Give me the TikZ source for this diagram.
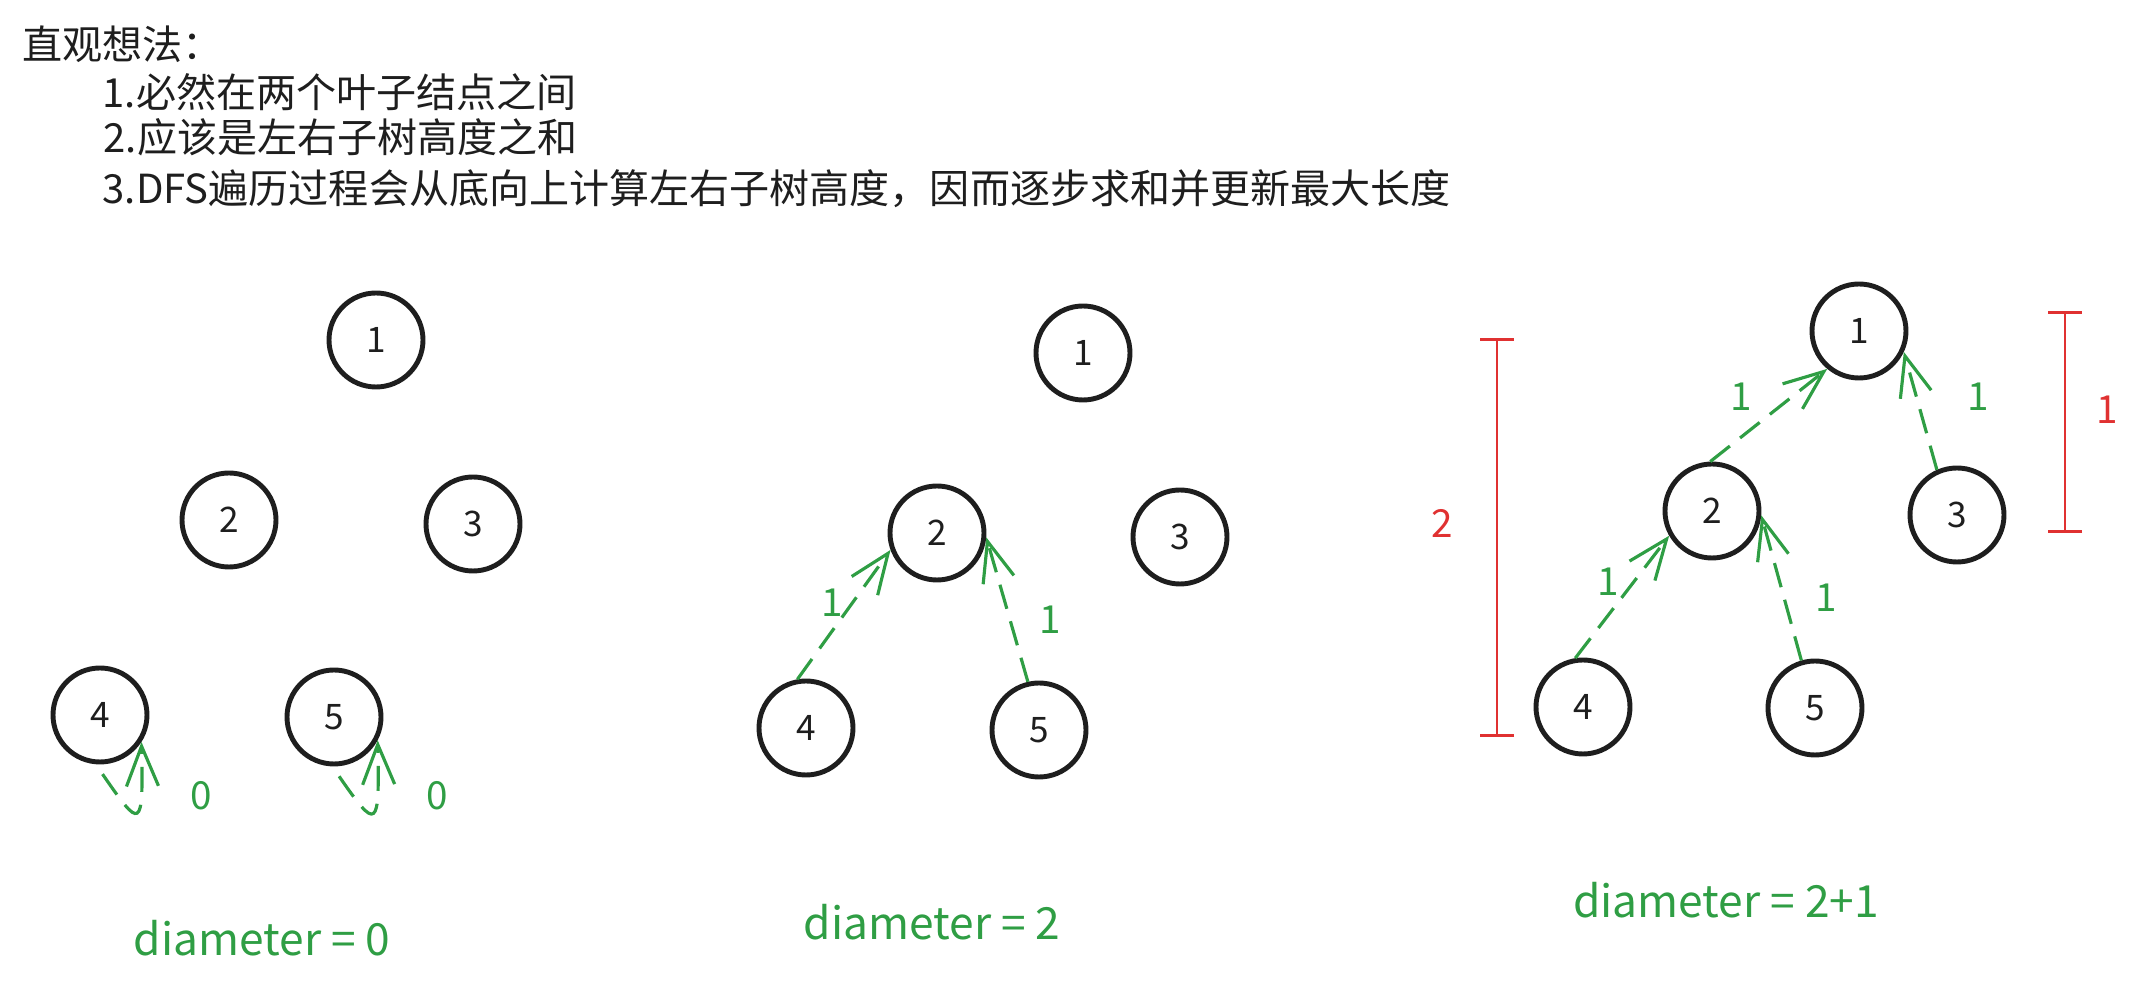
\documentclass[tikz,border=0pt]{standalone}
\usepackage{fontspec}
\setmainfont{Noto Sans CJK SC}
\usetikzlibrary{arrows.meta,positioning}
\definecolor{ink}{HTML}{1E1E1E}
\definecolor{pathgreen}{HTML}{2F9E44}
\definecolor{barred}{HTML}{E03131}
\tikzset{
  treenode/.style={draw=ink, circle, line width=1.4pt, minimum size=9.4mm, inner sep=0pt, text=ink, font=\fontsize{10}{12}\selectfont},
  uparrow/.style={-{Straight Barb[length=4mm,width=3.2mm]}, draw=pathgreen, line width=0.9pt, dash pattern=on 2.5mm off 1.3mm},
  heightlbl/.style={text=pathgreen, font=\fontsize{11}{13}\selectfont},
  heightbar/.style={{Bar[width=3.4mm]}-{Bar[width=3.4mm]}, draw=barred, line width=0.8pt},
  barlbl/.style={text=barred, font=\fontsize{11}{13}\selectfont},
  notetext/.style={anchor=west, text=ink, inner sep=0pt, font=\fontsize{11.4}{14}\selectfont},
  diamtext/.style={text=pathgreen, font=\fontsize{12.6}{15}\selectfont}
}

\begin{document}
\begin{tikzpicture}
  \useasboundingbox (0,0) rectangle (21.32,-9.85);
  \node[notetext] (t0) at (0.22,-0.44) {直观想法：};
  \node[notetext] (t1) at (1.02,-0.92) {1.必然在两个叶子结点之间};
  \node[notetext] (t2) at (1.03,-1.37) {2.应该是左右子树高度之和};
  \node[notetext] (t3) at (1.02,-1.89) {3.DFS遍历过程会从底向上计算左右子树高度，因而逐步求和并更新最大长度};

  \node[treenode] (a1) at (3.76,-3.40) {1};
  \node[treenode] (a2) at (2.29,-5.20) {2};
  \node[treenode] (a3) at (4.73,-5.24) {3};
  \node[treenode] (a4) at (1.00,-7.15) {4};
  \node[treenode] (a5) at (3.34,-7.17) {5};
  \draw[uparrow, shorten <=1.2mm] (a4.-95) .. controls +(0.45,-0.65) and +(0.02,-0.9) .. (a4.-33);
  \draw[uparrow, shorten <=1.2mm] (a5.-92) .. controls +(0.45,-0.65) and +(0.02,-0.9) .. (a5.-28);
  \node[heightlbl] (a4h) at (2.01,-7.96) {0};
  \node[heightlbl] (a5h) at (4.37,-7.96) {0};
  \node[diamtext] (ad) at (2.62,-9.38) {diameter = 0};

  \node[treenode] (b1) at (10.83,-3.53) {1};
  \node[treenode] (b2) at (9.37,-5.33) {2};
  \node[treenode] (b3) at (11.80,-5.37) {3};
  \node[treenode] (b4) at (8.06,-7.28) {4};
  \node[treenode] (b5) at (10.39,-7.30) {5};
  \draw[uparrow] (b4.100) -- (b2.200);
  \draw[uparrow] (b5.103) -- (b2.-5);
  \node[heightlbl] (b4h) at (8.32,-6.03) {1};
  \node[heightlbl] (b5h) at (10.50,-6.20) {1};
  \node[diamtext] (bd) at (9.32,-9.22) {diameter = 2};

  \node[treenode] (c1) at (18.59,-3.31) {1};
  \node[treenode] (c2) at (17.12,-5.11) {2};
  \node[treenode] (c3) at (19.57,-5.15) {3};
  \node[treenode] (c4) at (15.83,-7.07) {4};
  \node[treenode] (c5) at (18.15,-7.08) {5};
  \draw[uparrow] (c2.92) -- (c1.-130);
  \draw[uparrow] (c3.114) -- (c1.-25);
  \draw[uparrow] (c4.99) -- (c2.-150);
  \draw[uparrow] (c5.106) -- (c2.-5);
  \node[heightlbl] (c2h) at (17.41,-3.97) {1};
  \node[heightlbl] (c3h) at (19.78,-3.97) {1};
  \node[heightlbl] (c4h) at (16.08,-5.82) {1};
  \node[heightlbl] (c5h) at (18.26,-5.98) {1};
  \coordinate (lbtop) at (14.97,-3.38);
  \coordinate (lbbot) at (14.97,-7.37);
  \coordinate (rbtop) at (20.65,-3.11);
  \coordinate (rbbot) at (20.65,-5.33);
  \draw[heightbar] (lbtop) -- (lbbot);
  \draw[heightbar] (rbtop) -- (rbbot);
  \node[barlbl] (lbl) at (14.42,-5.23) {2};
  \node[barlbl] (rbl) at (21.07,-4.10) {1};
  \node[diamtext] (cd) at (17.26,-9.00) {diameter = 2+1};
\end{tikzpicture}
\end{document}
